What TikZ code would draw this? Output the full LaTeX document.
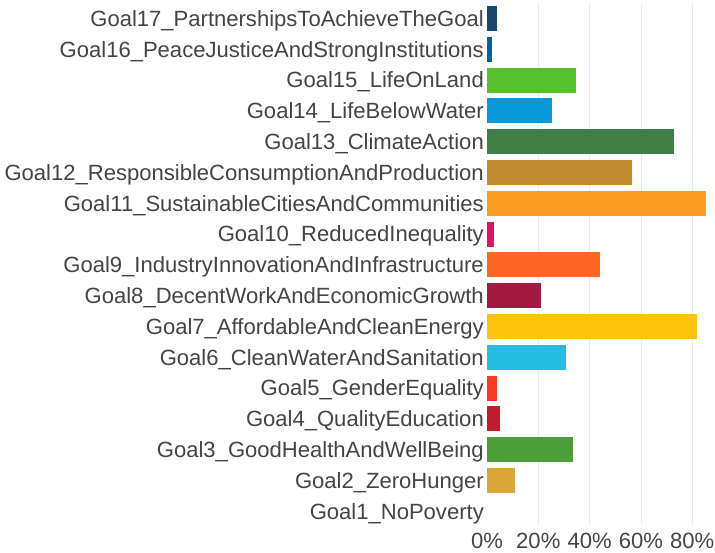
\documentclass[tikz,border=0pt]{standalone}
\usepackage{fontspec}
\setmainfont{Liberation Sans}
\usepackage{tikz}

\definecolor{sdg1}{HTML}{E5243B}
\definecolor{sdg2}{HTML}{DDA63A}
\definecolor{sdg3}{HTML}{4C9F38}
\definecolor{sdg4}{HTML}{C5192D}
\definecolor{sdg5}{HTML}{FF3A21}
\definecolor{sdg6}{HTML}{26BDE2}
\definecolor{sdg7}{HTML}{FCC30B}
\definecolor{sdg8}{HTML}{A21942}
\definecolor{sdg9}{HTML}{FD6925}
\definecolor{sdg10}{HTML}{DD1367}
\definecolor{sdg11}{HTML}{FD9D24}
\definecolor{sdg12}{HTML}{BF8B2E}
\definecolor{sdg13}{HTML}{3F7E44}
\definecolor{sdg14}{HTML}{0A97D9}
\definecolor{sdg15}{HTML}{56C02B}
\definecolor{sdg16}{HTML}{00689D}
\definecolor{sdg17}{HTML}{19486A}
\definecolor{texto}{HTML}{444444}
\definecolor{grade}{HTML}{EBEBEB}

\begin{document}
\begin{tikzpicture}[x=1pt, y=-1pt,
		rotulo/.style={text=texto, font=\fontsize{22.05}{26}\selectfont, inner sep=0pt}]
			\useasboundingbox (0, 0) rectangle (715, 553);
			% grade
			\foreach \p in {20, 40, 60, 80} {
					\draw[grade, line width=0.8pt] (487 + \p*2.565, 3) -- (487 + \p*2.565, 525);
				}
			% eixo x
			\foreach \p in {0, 20, 40, 60, 80} {
					\node[rotulo, anchor=base] (px\p) at (487 + \p*2.565, 548) {\p\%};
				}
			% barras e rótulos
			\foreach \n/\nome/\v in {17/PartnershipsToAchieveTheGoal/3.9, 16/PeaceJusticeAndStrongInstitutions/1.9,
					15/LifeOnLand/34.7, 14/LifeBelowWater/25.3, 13/ClimateAction/72.9,
					12/ResponsibleConsumptionAndProduction/56.5, 11/SustainableCitiesAndCommunities/85.4,
					10/ReducedInequality/2.7, 9/IndustryInnovationAndInfrastructure/44.0,
					8/DecentWorkAndEconomicGrowth/21.0, 7/AffordableAndCleanEnergy/81.9,
					6/CleanWaterAndSanitation/30.8, 5/GenderEquality/3.9, 4/QualityEducation/5.1,
					3/GoodHealthAndWellBeing/33.5, 2/ZeroHunger/10.9, 1/NoPoverty/0} {
					\pgfmathsetmacro{\yc}{18.5 + (17 - \n)*30.8}
					\ifdim \v pt > 0pt
						\fill[sdg\n] (487, \yc - 12.5) rectangle (487 + \v*2.565, \yc + 12.5);
					\fi
					\node[rotulo, anchor=base east] (g\n) at (484, \yc + 7.8) {Goal\n\_\nome};
				}
		\end{tikzpicture}
\end{document}
